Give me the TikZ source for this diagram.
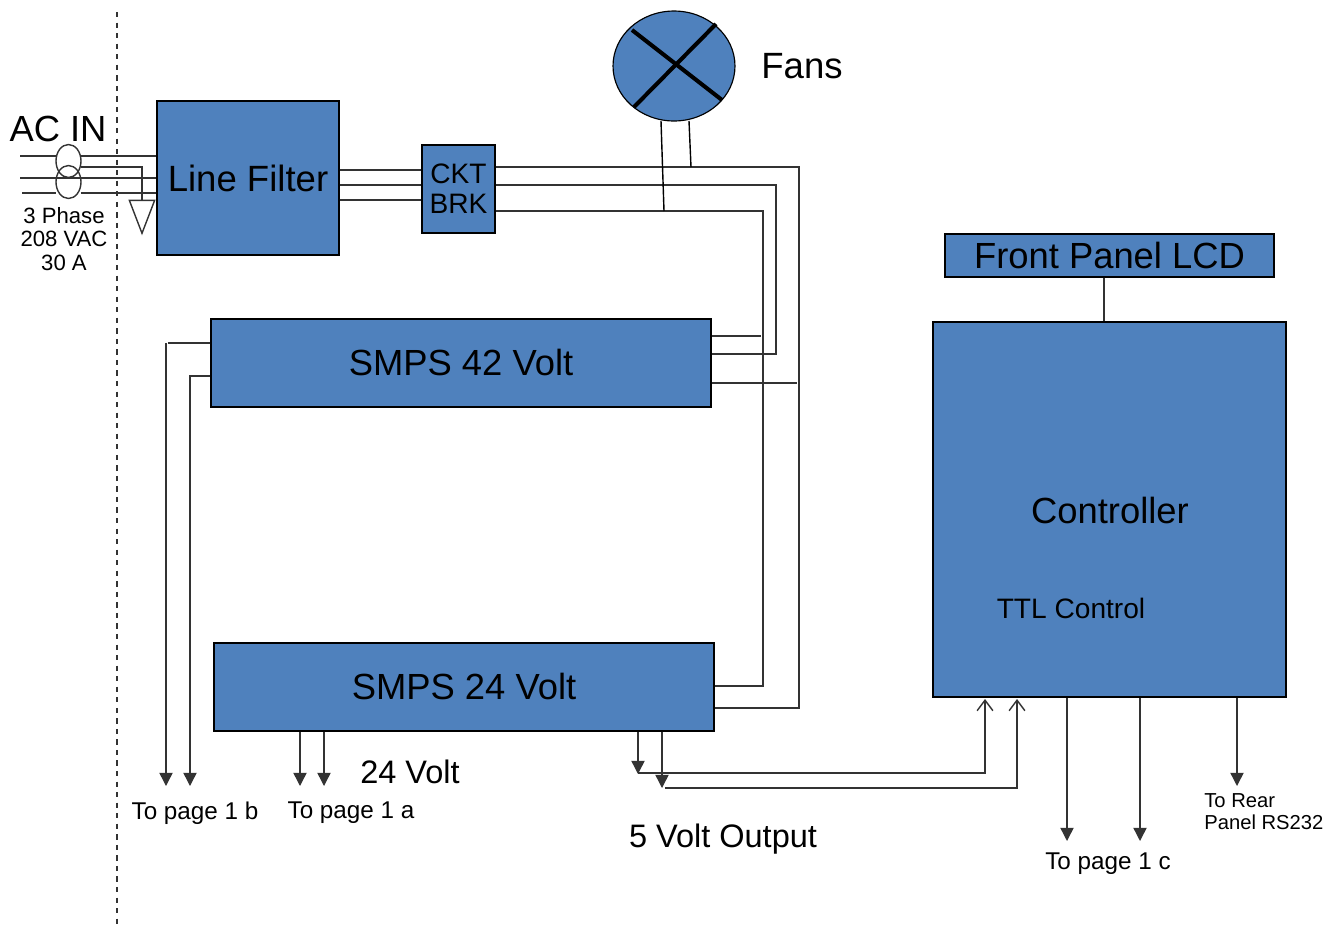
\documentclass[tikz,border=0pt]{standalone}
\usepackage{fontspec}
\setmainfont{Liberation Sans}
\usetikzlibrary{shapes.geometric, arrows.meta}
\definecolor{boxblue}{HTML}{4F81BD}
\newcommand{\fs}[1]{\fontsize{#1}{#1}\selectfont}

\begin{document}
\begin{tikzpicture}[x=0.02cm,y=-0.02cm]
	\tikzstyle{block} = [rectangle,fill=boxblue,draw=black,line width=0.65pt,inner sep=0pt,align=center]
	\tikzstyle{wire} = [draw=black!80,line width=0.8pt]
	\tikzstyle{arr} = [wire,-{Triangle[length=7.5pt,width=7.5pt]}]
	\tikzstyle{openarr} = [wire,-{Straight Barb[length=6pt,width=9pt]}]
	\tikzstyle{lab} = [inner sep=0pt,align=center]
	\useasboundingbox (0,0) rectangle (1335,927);
	% blocks
	\node[block,minimum width=3.64cm,minimum height=3.08cm] (filter) at (248,178) {\fs{20.8}Line Filter};
	\node[block,minimum width=1.46cm,minimum height=1.76cm] (ckt) at (458.5,189) {\fs{16}CKT\\[5pt]\fs{16}BRK};
	\node[block,minimum width=10cm,minimum height=1.76cm] (smps42) at (461,363) {\fs{20.7}SMPS 42 Volt\rule[-1pt]{0pt}{1pt}};
	\node[block,minimum width=10cm,minimum height=1.76cm] (smps24) at (464,687) {\fs{20.7}SMPS 24 Volt\rule[-1pt]{0pt}{1pt}};
	\node[block,minimum width=6.58cm,minimum height=0.86cm] (lcd) at (1109.5,255.5) {\fs{20.7}Front Panel LCD};
	\node[block,minimum width=7.06cm,minimum height=7.5cm] (ctrl) at (1109.5,509.5) {};
	\node[ellipse,fill=boxblue,draw=black,line width=0.65pt,inner sep=0pt,minimum width=2.44cm,minimum height=2.2cm] (fan) at (674,66) {};
	\node[ellipse,draw=black!80,line width=0.8pt,inner sep=0pt,outer sep=0pt,minimum width=0.5cm,minimum height=0.66cm] (coil1) at (68.5,161) {};
	\node[ellipse,draw=black!80,line width=0.8pt,inner sep=0pt,outer sep=0pt,minimum width=0.5cm,minimum height=0.66cm] (coil2) at (68.5,182) {};
	\node[isosceles triangle,isosceles triangle apex angle=42,shape border rotate=-90,draw=black!80,line width=0.8pt,inner sep=0pt,outer sep=0pt,minimum height=0.66cm] (gnd) at (142,209) {};
	% labels
	\node[lab] (acin) at (58,129) {\fs{20.7}AC IN};
	\node[lab] (phase) at (64,239) {\fs{12.6}3 Phase\\[1.5pt]\fs{12.6}208 VAC\\[1.5pt]\fs{12.6}30 A};
	\node[lab] (fans) at (802,66) {\fs{20.8}Fans};
	\node[lab] (controller) at (1110,510) {\fs{20.7}Controller};
	\node[lab] (ttl) at (1071,608) {\fs{16}TTL Control};
	\node[lab] (pageb) at (195,813) {\fs{13.8}To page 1 b};
	\node[lab] (pagea) at (351,813) {\fs{13.8}To page 1 a};
	\node[lab] (volt24) at (410,772) {\fs{18.5}24 Volt};
	\node[lab] (volt5) at (723,839) {\fs{18.5}5 Volt Output};
	\node[lab] (pagec) at (1108,864) {\fs{13.8}To page 1 c};
	\node[lab,align=left,anchor=west] (rear) at (1204,812) {\fs{11.5}To Rear\\[0.5pt]\fs{11.5}Panel RS232};
	% free ends
	\coordinate (in1) at (20,156);
	\coordinate (in2) at (20,178);
	\coordinate (in3) at (22,193);
	\coordinate (g1) at (81,167);
	\coordinate (g2) at (142,167);
	\coordinate (f1) at (0,170);
	\coordinate (f2) at (0,185);
	\coordinate (f3) at (0,200);
	\coordinate (o1) at (799,167);
	\coordinate (o2) at (776,185);
	\coordinate (o3) at (763,211);
	\coordinate (o4) at (799,708);
	\coordinate (o5) at (776,354);
	\coordinate (o6) at (763,686);
	\coordinate (t1) at (691,167);
	\coordinate (t2) at (664,211);
	\coordinate (t3) at (689,121);
	\coordinate (t4) at (661,121);
	\coordinate (s1) at (761,336);
	\coordinate (s2) at (797,383);
	\coordinate (l1) at (166,343);
	\coordinate (l2) at (190,376);
	\coordinate (l3) at (168,343);
	\coordinate (b1) at (166,786);
	\coordinate (b2) at (190,786);
	\coordinate (a1) at (300,786);
	\coordinate (a2) at (324,786);
	\coordinate (v1) at (638,774);
	\coordinate (v2) at (662,788);
	\coordinate (v3) at (665,788);
	\coordinate (u1) at (985,773);
	\coordinate (u2) at (1017,788);
	\coordinate (w1) at (985,699);
	\coordinate (w2) at (1017,699);
	\coordinate (p1) at (1104,300);
	\coordinate (d1) at (1067,841);
	\coordinate (d2) at (1140,841);
	\coordinate (d3) at (1237,786);
	\coordinate (cross1) at (632,30);
	\coordinate (cross2) at (722,100);
	\coordinate (cross3) at (716,24);
	\coordinate (cross4) at (634,107);
	\coordinate (div1) at (117,12);
	\coordinate (div2) at (117,927);
	% input side
	\draw[dashed,black!80,line width=0.8pt] (div1) -- (div2);
	\draw[wire] (in1) -- (in1 -| coil1.west);
	\draw[wire] (in1 -| coil1.east) -- (in1 -| filter.west);
	\draw[wire] (in2) -- (in2 -| filter.west);
	\draw[wire] (in3) -- (in3 -| coil2.west);
	\draw[wire] (in3 -| coil2.east) -- (in3 -| filter.west);
	\draw[wire] (g1) -- (g2) -- (gnd.north);
	\draw[wire] (f1 -| filter.east) -- (f1 -| ckt.west);
	\draw[wire] (f2 -| filter.east) -- (f2 -| ckt.west);
	\draw[wire] (f3 -| filter.east) -- (f3 -| ckt.west);
	% breaker outputs
	\draw[wire] (o1 -| ckt.east) -- (o1) -- (o4) -- (o4 -| smps24.east);
	\draw[wire] (o2 -| ckt.east) -- (o2) -- (o5) -- (o5 -| smps42.east);
	\draw[wire] (o3 -| ckt.east) -- (o3) -- (o6) -- (o6 -| smps24.east);
	\draw[wire,draw=black] (t3) -- (t1);
	\draw[wire,draw=black] (t4) -- (t2);
	\draw[wire] (s1 -| smps42.east) -- (s1);
	\draw[wire] (s2 -| smps42.east) -- (s2);
	% fan cross
	\draw[black,line width=2.3pt] (cross1) -- (cross2);
	\draw[black,line width=2.3pt] (cross3) -- (cross4);
	% outputs
	\draw[wire] (l1 -| smps42.west) -- (l3);
	\draw[arr] (l1) -- (b1);
	\draw[arr] (l2 -| smps42.west) -- (l2) -- (b2);
	\draw[arr] (a1 |- smps24.south) -- (a1);
	\draw[arr] (a2 |- smps24.south) -- (a2);
	\draw[arr] (v1 |- smps24.south) -- (v1);
	\draw[arr] (v2 |- smps24.south) -- (v2);
	\draw[openarr] (v1 |- u1) -- (u1) -- (w1);
	\draw[openarr] (v3) -- (u2) -- (w2);
	\draw[wire] (p1 |- lcd.south) -- (p1 |- ctrl.north);
	\draw[arr] (d1 |- ctrl.south) -- (d1);
	\draw[arr] (d2 |- ctrl.south) -- (d2);
	\draw[arr] (d3 |- ctrl.south) -- (d3);
\end{tikzpicture}
\end{document}
